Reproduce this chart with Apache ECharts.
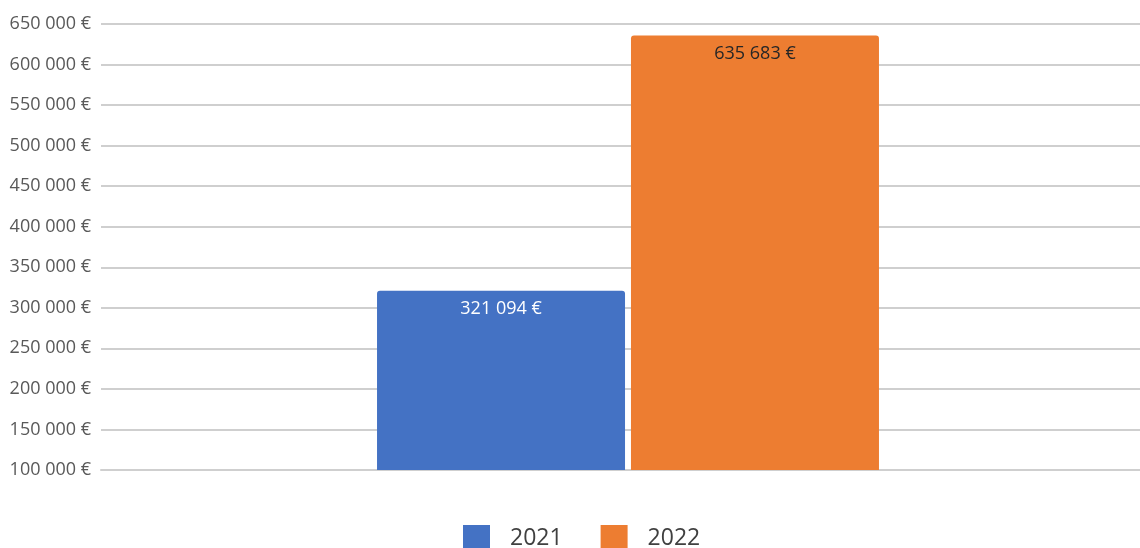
<!DOCTYPE html>
<html>
<head>
<meta charset="utf-8">
<script src="https://cdn.jsdelivr.net/npm/echarts@6/dist/echarts.min.js"></script>
<style>
    html, body {margin: 0; padding: 0; background: #fff;}
    #main {width: 1140px; height: 548px;}
</style>
</head>
<body>
<div id="main"></div>
<script>
    // 数据
    var years = ['2021', '2022'];
    var totals = [321094, 635683];
    var barColors = ['#4472C4', '#ED7D31'];
    var labelColors = ['#ffffff', '#262626'];
    var yMin = 100000, yMax = 650000, yStep = 50000;

    function euro(v) {
        return String(Math.round(v)).replace(/\B(?=(\d{3})+(?!\d))/g, ' ') + ' €';
    }

    var myChart = echarts.init(document.getElementById('main'));

    var series = years.map(function (y, i) {
        return {
            name: y,
            type: 'bar',
            data: [totals[i]],
            barWidth: 248,
            barGap: '2.4%',
            itemStyle: {
                color: barColors[i],
                borderRadius: [3, 3, 0, 0]
            },
            label: {
                show: true,
                position: 'insideTop',
                distance: 9,
                color: labelColors[i],
                fontFamily: 'Open Sans',
                fontSize: 18,
                formatter: function (p) { return euro(p.value); }
            }
        };
    });

    var option = {
        animation: false,
        color: barColors,
        grid: {left: 101, top: 24, width: 1054, height: 446, outerBoundsMode: 'none'},
        legend: {
            bottom: -8,
            left: 458,
            itemWidth: 27,
            itemHeight: 26,
            itemGap: 38,
            icon: 'rect',
            textStyle: {
                fontFamily: 'Open Sans',
                fontSize: 23,
                color: '#404040',
                padding: [0, 0, 0, 15]
            },
            data: years
        },
        xAxis: {
            type: 'category',
            data: [''],
            axisTick: {show: false},
            axisLabel: {show: false},
            axisLine: {lineStyle: {color: '#cfcfcf', width: 2}}
        },
        yAxis: {
            type: 'value',
            min: yMin,
            max: yMax,
            interval: yStep,
            axisLine: {show: false},
            axisTick: {show: false},
            axisLabel: {
                margin: 10,
                color: '#595959',
                fontFamily: 'Open Sans',
                fontSize: 18,
                formatter: euro
            },
            splitLine: {lineStyle: {color: '#cfcfcf', width: 2}}
        },
        series: series
    };

    myChart.setOption(option);
</script>
</body>
</html>
